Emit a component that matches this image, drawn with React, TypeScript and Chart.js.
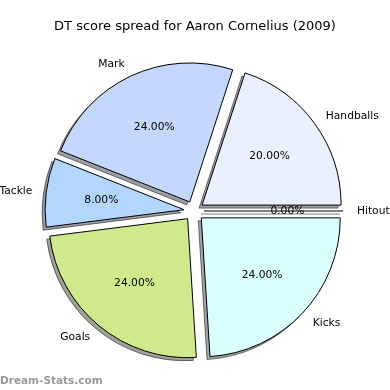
import React, { useEffect, useRef } from "react";
import { Chart, registerables } from "chart.js";

Chart.register(...registerables);

const TITLE = "DT score spread for Aaron Cornelius (2009)";
const WATERMARK = "Dream-Stats.com";
// Slices in drawing order (clockwise, starting at 3 o'clock)
const categories = ["Kicks", "Goals", "Tackle", "Mark", "Handballs", "Hitout"];
const values = [24, 24, 8, 24, 20, 0];
const sliceColors = ["#DAFFFF", "#D0EA8B", "#B3D6FF", "#C4D8FF", "#EAF0FF", "#FFFFFF"];

const EXPLODE = 10;
const SHADOW_DX = -3;
const SHADOW_DY = 3;
const FONT = "'DejaVu Sans', 'Liberation Sans', sans-serif";

function props(el: any) {
  return el.getProps(["x", "y", "startAngle", "endAngle", "outerRadius"], true);
}

const explodePlugin = {
  id: "explodePie",
  beforeDatasetDraw(chart: any, args: any) {
    const ctx = chart.ctx as CanvasRenderingContext2D;
    const els = args.meta.data;
    const drawOne = (el: any, shadow: boolean) => {
      const { x, y, startAngle, endAngle, outerRadius } = props(el);
      const mid = (startAngle + endAngle) / 2;
      const dx = Math.cos(mid) * EXPLODE + (shadow ? SHADOW_DX : 0);
      const dy = Math.sin(mid) * EXPLODE + (shadow ? SHADOW_DY : 0);
      ctx.save();
      ctx.translate(dx, dy);
      if (shadow) {
        ctx.filter = "brightness(0.3)";
        ctx.globalAlpha = 0.5;
      }
      if (endAngle - startAngle > 1e-9) {
        el.draw(ctx);
      } else {
        ctx.beginPath();
        ctx.moveTo(x, y);
        ctx.lineTo(x + Math.cos(startAngle) * outerRadius, y + Math.sin(startAngle) * outerRadius);
        ctx.strokeStyle = "#000";
        ctx.lineWidth = 1.2;
        ctx.stroke();
      }
      ctx.restore();
    };
    els.forEach((el: any) => drawOne(el, true));
    els.forEach((el: any) => drawOne(el, false));
    return false;
  },
  afterDatasetsDraw(chart: any) {
    const ctx = chart.ctx as CanvasRenderingContext2D;
    const meta = chart.getDatasetMeta(0);
    const data = chart.data.datasets[0].data as number[];
    const total = data.reduce((a, b) => a + b, 0);
    ctx.save();
    ctx.fillStyle = "#000";
    ctx.font = `10.7px ${FONT}`;
    ctx.textBaseline = "middle";
    meta.data.forEach((el: any, i: number) => {
      const { x, y, startAngle, endAngle, outerRadius } = props(el);
      const mid = (startAngle + endAngle) / 2;
      const c = Math.cos(mid);
      const s = Math.sin(mid);
      const cx = x + c * EXPLODE;
      const cy = y + s * EXPLODE;
      ctx.textAlign = c > 1e-6 ? "left" : c < -1e-6 ? "right" : "center";
      ctx.fillText(String(chart.data.labels[i]), cx + c * outerRadius * 1.1, cy + s * outerRadius * 1.1 + 0.5);
      ctx.textAlign = "center";
      const pct = ((data[i] / total) * 100).toFixed(2) + "%";
      ctx.fillText(pct, cx + c * outerRadius * 0.6, cy + s * outerRadius * 0.6 + 0.5);
    });
    ctx.restore();
  },
  afterDraw(chart: any) {
    const ctx = chart.ctx as CanvasRenderingContext2D;
    ctx.save();
    ctx.fillStyle = "#000";
    ctx.font = `13px ${FONT}`;
    ctx.textAlign = "center";
    ctx.textBaseline = "alphabetic";
    ctx.fillText(TITLE, 195, 30);
    ctx.fillStyle = "#999999";
    ctx.font = `bold 10.5px ${FONT}`;
    ctx.textAlign = "left";
    ctx.fillText(WATERMARK, 0, 384);
    ctx.restore();
  },
};

export default function App() {
  const ref = useRef<HTMLCanvasElement | null>(null);
  useEffect(() => {
    if (!ref.current) return;
    const chart = new Chart(ref.current, {
      type: "pie",
      data: {
        labels: categories,
        datasets: [
          {
            data: values,
            backgroundColor: sliceColors,
            borderColor: "#000000",
            borderWidth: 1,
            borderJoinStyle: "miter",
            radius: 139,
          } as any,
        ],
      },
      options: {
        responsive: false,
        animation: false,
        rotation: 90,
        events: [],
        layout: { padding: { left: 0, right: 2, top: 52, bottom: 20 } },
        plugins: {
          legend: { display: false },
          tooltip: { enabled: false },
          title: { display: false },
        },
      } as any,
      plugins: [explodePlugin as any],
    });
    return () => chart.destroy();
  }, []);
  return (
    <div style={{ position: "absolute", left: 0, top: 0, width: 390, height: 390, background: "#fff" }}>
      <canvas ref={ref} width={390} height={390} style={{ display: "block" }} />
    </div>
  );
}
